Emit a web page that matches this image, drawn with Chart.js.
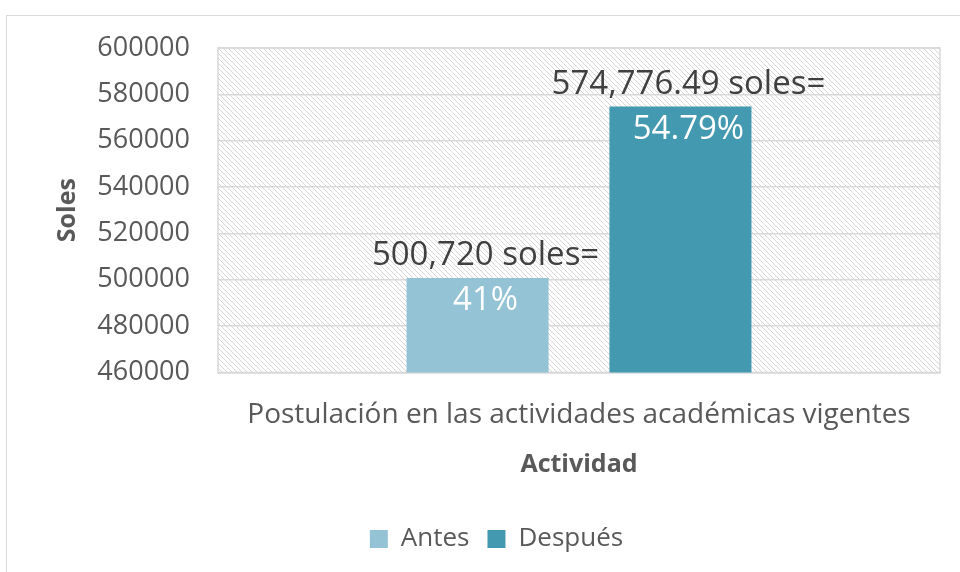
<!DOCTYPE html>
<html>
<head>
<meta charset="utf-8">
<script src="https://cdn.jsdelivr.net/npm/chart.js@4.4.1/dist/chart.umd.min.js"></script>
<style>
    body { margin: 0; background: #fff; }
    #wrap { position: relative; width: 960px; height: 572px; overflow: hidden; }
    #frame { position: absolute; left: 6px; top: 15px; width: 970px; height: 620px; border: 1px solid #d9d9d9; }
    canvas { position: absolute; left: 0; top: 0; }
</style>
</head>
<body>
<div id="wrap">
    <div id="frame"></div>
    <canvas id="chart" width="960" height="572"></canvas>
</div>
<script>
// Chart data
const categories = ['Postulación en las actividades académicas vigentes'];
const seriesNames = ['Antes', 'Después'];
const antesValues = [500720];
const despuesValues = [574776.49];
const topLabels = ['500,720 soles=', '574,776.49 soles='];
const innerLabels = ['41%', '54.79%'];
const yMin = 460000;
const yMax = 600000;
const yStep = 20000;

const FONT = '"Open Sans", "DejaVu Sans", sans-serif';
const TEXT = '#595959';

// diagonal hatch used behind the bars
function makeHatch() {
    const p = document.createElement('canvas');
    p.width = 5;
    p.height = 5;
    const c = p.getContext('2d');
    c.strokeStyle = '#d6d6d6';
    c.lineWidth = 1;
    c.beginPath();
    c.moveTo(-1, -1); c.lineTo(6, 6);
    c.moveTo(-1, 4); c.lineTo(1, 6);
    c.moveTo(4, -1); c.lineTo(6, 1);
    c.stroke();
    return c.createPattern(p, 'repeat');
}

const plotBackground = {
    id: 'plotBackground',
    beforeDraw(chart) {
        const { ctx, chartArea: a } = chart;
        ctx.save();
        ctx.fillStyle = makeHatch();
        ctx.fillRect(a.left, a.top, a.right - a.left, a.bottom - a.top);
        ctx.strokeStyle = '#d9d9d9';
        ctx.lineWidth = 1.5;
        ctx.strokeRect(a.left, a.top, a.right - a.left, a.bottom - a.top);
        ctx.restore();
    }
};

// text above and inside each bar
const barLabels = {
    id: 'barLabels',
    afterDatasetsDraw(chart) {
        const ctx = chart.ctx;
        ctx.save();
        ctx.textAlign = 'center';
        ctx.textBaseline = 'middle';
        chart.data.datasets.forEach((ds, i) => {
            const bar = chart.getDatasetMeta(i).data[0];
            ctx.font = '33px ' + FONT;
            ctx.fillStyle = '#404040';
            ctx.fillText(topLabels[i], bar.x + 8, bar.y - 22);
            ctx.fillStyle = '#ffffff';
            ctx.fillText(innerLabels[i], bar.x + 8, bar.y + 23);
        });
        ctx.restore();
    }
};

new Chart(document.getElementById('chart'), {
    type: 'bar',
    data: {
        labels: categories,
        datasets: [
            { label: seriesNames[0], data: antesValues, backgroundColor: '#93c3d5' },
            { label: seriesNames[1], data: despuesValues, backgroundColor: '#4399b0' }
        ]
    },
    options: {
        responsive: false,
        animation: false,
        categoryPercentage: 0.562,
        barPercentage: 0.7,
        layout: { padding: { left: 53, top: 48, right: 20, bottom: 10 } },
        plugins: {
            legend: {
                position: 'bottom',
                labels: {
                    boxWidth: 18, boxHeight: 18, padding: 18,
                    color: TEXT, font: { family: FONT, size: 26 }
                }
            },
            tooltip: { enabled: false }
        },
        scales: {
            x: {
                grid: { display: false },
                border: { color: '#d9d9d9', width: 1.5 },
                ticks: { color: TEXT, padding: 18, font: { family: FONT, size: 28 } },
                title: { display: true, text: 'Actividad', color: TEXT, padding: { top: 0, bottom: 28 },
                    font: { family: FONT, size: 25, weight: 'bold' } }
            },
            y: {
                min: yMin,
                max: yMax,
                afterFit(scale) { scale.width = 165; },
                grid: { color: '#d9d9d9', lineWidth: 1.5, drawTicks: false },
                border: { display: false },
                ticks: { stepSize: yStep, color: TEXT, padding: 28, font: { family: FONT, size: 27 },
                    callback: v => String(v) },
                title: { display: true, text: 'Soles', color: TEXT, padding: { top: 0, bottom: 0 },
                    font: { family: FONT, size: 25, weight: 'bold' } }
            }
        }
    },
    plugins: [plotBackground, barLabels]
});
</script>
</body>
</html>
